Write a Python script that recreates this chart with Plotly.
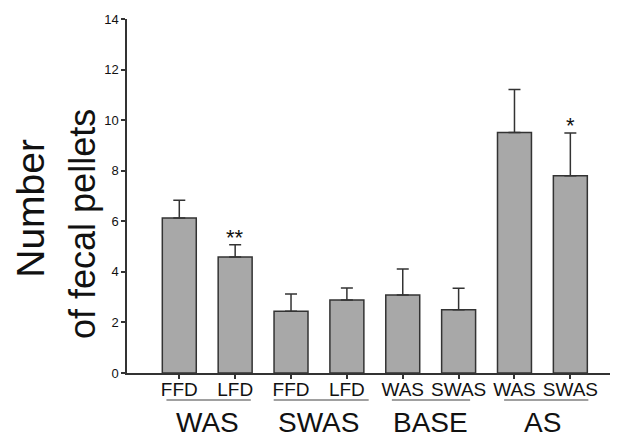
import plotly.graph_objects as go

# ---- data ----
sub_labels = ["FFD", "LFD", "FFD", "LFD", "WAS", "SWAS", "WAS", "SWAS"]
means = [6.13, 4.59, 2.44, 2.89, 3.08, 2.50, 9.51, 7.80]
errors = [0.70, 0.48, 0.68, 0.47, 1.03, 0.85, 1.70, 1.69]
group_labels = ["WAS", "SWAS", "BASE", "AS"]
group_members = [(0, 1), (2, 3), (4, 5), (6, 7)]
significance = ["", "**", "", "", "", "", "", "*"]
y_ticks = [0, 2, 4, 6, 8, 10, 12, 14]

# ---- style ----
FONT = "Liberation Sans, Arial, sans-serif"
underline_pad = [(0.23, 0.28), (0.31, 0.39), (0.195, 0.206), (0.186, 0.322)]

x = list(range(len(means)))

fig = go.Figure()
fig.add_trace(go.Bar(
    x=x, y=means, width=0.608,
    marker=dict(color="#a8a8a8", line=dict(color="#333333", width=1.5)),
    error_y=dict(type="data", array=errors, arrayminus=[0] * len(errors),
                 symmetric=False, color="#333333", thickness=1.5, width=6),
    showlegend=False, hoverinfo="skip",
))

annotations = []
shapes = []
# significance stars
for i, s in enumerate(significance):
    if s:
        annotations.append(dict(
            x=x[i], y=means[i] + errors[i], xref="x", yref="y",
            text=s, showarrow=False, yanchor="bottom", xanchor="center",
            yshift=-7, font=dict(family=FONT, size=22, color="#111111")))

# group labels and underlines
for g, (a, b) in enumerate(group_members):
    annotations.append(dict(
        x=(x[a] + x[b]) / 2, y=-0.141, xref="x", yref="paper",
        text=group_labels[g], showarrow=False, xanchor="center", yanchor="middle",
        font=dict(family=FONT, size=28, color="#111111")))
    shapes.append(dict(
        type="line", xref="x", yref="paper",
        x0=x[a] - underline_pad[g][0], x1=x[b] + underline_pad[g][1],
        y0=-0.0763, y1=-0.0763, line=dict(color="#a0a0a0", width=2)))

# y-axis title as two rotated lines
annotations.append(dict(
    x=-0.197, y=0.4647, xref="paper", yref="paper", text="Number",
    textangle=-90, showarrow=False, xanchor="center", yanchor="middle",
    font=dict(family=FONT, size=39, color="#111111")))
annotations.append(dict(
    x=-0.0896, y=0.421, xref="paper", yref="paper", text="of fecal pellets",
    textangle=-90, showarrow=False, xanchor="center", yanchor="middle",
    font=dict(family=FONT, size=36, color="#111111")))

# the page body has an 8px margin, so the figure is 8px smaller on each side
fig.update_layout(
    width=610, height=430,
    margin=dict(l=119, r=0, t=11, b=65),
    paper_bgcolor="white", plot_bgcolor="white",
    annotations=annotations, shapes=shapes,
    font=dict(family=FONT),
    xaxis=dict(
        range=[-0.936, 7.853], tickvals=x, ticktext=sub_labels,
        showline=True, linecolor="#333333", linewidth=1.5,
        ticks="outside", ticklen=4, tickwidth=1.5, tickcolor="#333333",
        ticklabelstandoff=-6,
        tickfont=dict(family=FONT, size=19, color="#111111"),
        showgrid=False, zeroline=False, fixedrange=True,
    ),
    yaxis=dict(
        range=[0, 14], tickvals=y_ticks,
        showline=True, linecolor="#333333", linewidth=1.5,
        ticks="outside", ticklen=4, tickwidth=1.5, tickcolor="#333333",
        tickfont=dict(family=FONT, size=13, color="#111111"),
        showgrid=False, zeroline=False, fixedrange=True,
    ),
)

fig.write_html("out.html")
